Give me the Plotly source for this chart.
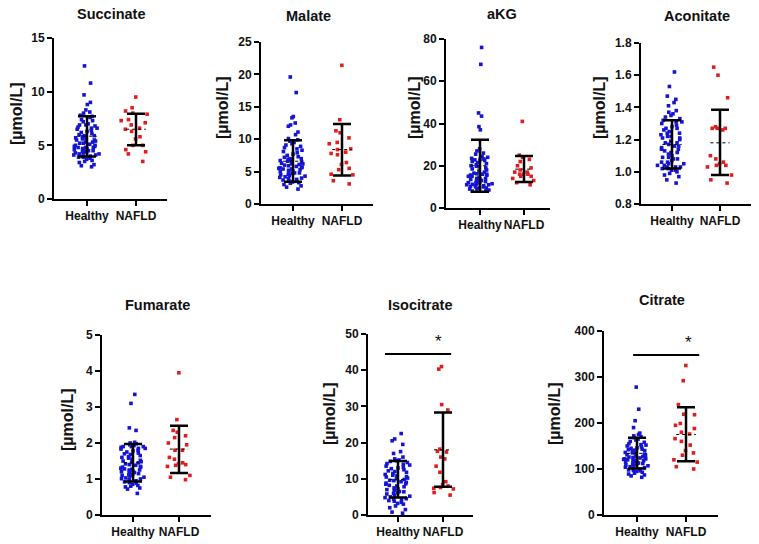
import plotly.graph_objects as go

# the page body adds an 8 px margin, so the figure is drawn 8 px in from the window corner
OFF = 8
W, H = 759 - OFF, 544 - OFF

groups = ["Healthy", "NAFLD"]
titles = ["Succinate", "Malate", "aKG", "Aconitate", "Fumarate", "Isocitrate", "Citrate"]

# ---------------- data (µmol/L) ----------------
succinate_healthy = [12.4, 10.8, 9.7, 9.0, 8.8, 8.3, 8.1, 8.0, 7.8, 7.7, 7.6, 7.4, 7.2, 7.0, 6.9, 6.8, 6.7,
                     6.6, 6.5, 6.4, 6.3, 6.2, 6.1, 6.0, 5.9, 5.8, 5.7, 5.6, 5.6, 5.5, 5.5, 5.4, 5.3, 5.2, 5.2,
                     5.1, 5.0, 5.0, 4.9, 4.9, 4.8, 4.8, 4.7, 4.7, 4.6, 4.6, 4.5, 4.5, 4.4, 4.4, 4.3, 4.3, 4.2,
                     4.2, 4.1, 4.1, 4.0, 4.0, 3.9, 3.9, 3.8, 3.7, 3.6, 3.5, 3.4, 3.2, 3.1, 3.0, 7.3, 6.6, 5.3,
                     4.8, 5.9, 6.9]
succinate_nafld = [9.5, 8.5, 8.2, 8.0, 7.9, 7.4, 7.3, 7.1, 6.9, 6.6, 6.5, 6.3, 5.8, 5.6, 5.0, 5.0, 4.6,
                   4.4, 4.2, 3.5]

malate_healthy = [19.6, 17.2, 13.5, 13.3, 12.5, 12.2, 12.0, 11.1, 10.7, 10.1, 9.9, 9.7, 9.5, 9.3, 9.1,
                  8.9, 8.7, 8.5, 8.3, 8.1, 7.9, 7.7, 7.5, 7.3, 7.2, 7.0, 6.9, 6.7, 6.6, 6.5, 6.3, 6.2, 6.1,
                  6.0, 5.9, 5.8, 5.7, 5.6, 5.5, 5.4, 5.3, 5.2, 5.1, 5.0, 4.9, 4.8, 4.7, 4.6, 4.5, 4.4, 4.3,
                  4.2, 4.1, 4.0, 3.9, 3.8, 3.7, 3.6, 3.5, 3.4, 3.3, 3.2, 3.0, 2.8, 2.6, 2.3, 5.6, 6.2, 7.0,
                  4.8, 5.4, 6.6]
malate_nafld = [21.4, 13.0, 11.3, 11.0, 10.2, 9.5, 9.3, 8.5, 8.4, 8.0, 7.8, 7.6, 6.4, 6.1, 5.5, 5.3,
                4.6, 4.5, 3.6, 3.1]

akg_healthy = [76, 68, 45, 43.5, 38.5, 37, 28, 27, 26, 25.5, 24.5, 24, 23.5, 23, 22.5, 22, 21.5, 21,
               20.5, 20, 19.5, 19, 18.5, 18, 17.5, 17, 16.5, 16, 16, 15.5, 15, 15, 14.5, 14, 14, 13.5, 13,
               13, 12.5, 12, 12, 11.5, 11.5, 11, 11, 10.5, 10.5, 10, 10, 9.5, 9.5, 9, 9, 8.5, 8, 8, 22.8,
               23.2, 16.2, 13.8, 11.2, 10.2, 15.6, 19.8, 12.3]
akg_nafld = [41, 25, 24, 23, 22, 20, 19, 18, 17, 17, 16, 16, 16, 15, 15, 14, 13, 12, 11]

aconitate_healthy = [1.62, 1.53, 1.47, 1.45, 1.43, 1.41, 1.38, 1.37, 1.35, 1.34, 1.33, 1.32, 1.31, 1.31,
                     1.30, 1.29, 1.28, 1.27, 1.26, 1.25, 1.24, 1.23, 1.22, 1.22, 1.21, 1.20, 1.19, 1.18,
                     1.17, 1.16, 1.15, 1.14, 1.14, 1.13, 1.12, 1.11, 1.10, 1.09, 1.08, 1.08, 1.07, 1.06,
                     1.05, 1.05, 1.04, 1.03, 1.03, 1.02, 1.02, 1.01, 1.01, 1.00, 0.99, 0.98, 0.97, 0.95,
                     0.93, 1.06, 1.12, 1.18, 1.24, 1.03, 1.09, 1.27, 1.16, 1.21, 1.36, 1.04]
aconitate_nafld = [1.65, 1.60, 1.46, 1.28, 1.27, 1.27, 1.27, 1.26, 1.10, 1.08, 1.06, 1.05, 1.04, 1.04,
                   1.03, 0.98, 0.95, 0.93]

fumarate_healthy = [3.35, 3.1, 2.42, 2.35, 2.02, 2.0, 1.98, 1.95, 1.93, 1.9, 1.9, 1.88, 1.85, 1.83, 1.8,
                    1.78, 1.75, 1.72, 1.7, 1.68, 1.65, 1.62, 1.6, 1.58, 1.55, 1.52, 1.5, 1.48, 1.45, 1.42,
                    1.4, 1.38, 1.35, 1.33, 1.3, 1.28, 1.25, 1.25, 1.22, 1.2, 1.18, 1.15, 1.12, 1.1, 1.08,
                    1.05, 1.03, 1.0, 0.98, 0.95, 0.92, 0.9, 0.88, 0.85, 0.82, 0.8, 0.78, 0.75, 0.72, 0.6,
                    1.27, 1.33, 1.46, 1.19, 1.85, 1.9, 1.12, 1.01]
fumarate_nafld = [3.95, 2.65, 2.35, 2.3, 2.2, 2.15, 2.0, 1.95, 1.8, 1.8, 1.6, 1.55, 1.45, 1.42, 1.4,
                  1.38, 1.35, 1.1, 1.05, 0.98]

isocitrate_healthy = [22.5, 21, 20.5, 19.5, 17.5, 17, 16, 15.5, 15, 14.8, 14.5, 14.2, 14, 13.5, 13.2, 13,
                      12.5, 12.2, 12, 11.5, 11.2, 11, 10.8, 10.5, 10.2, 10, 9.8, 9.5, 9.2, 9, 8.8, 8.5,
                      8.2, 8, 7.8, 7.5, 7.2, 7, 6.8, 6.5, 6.2, 6, 5.8, 5.5, 5.2, 5, 4.8, 4.5, 4.2, 4, 3.8,
                      3.5, 3.2, 3, 2.5, 2, 1.5, 0.8, 0.5, 13.8, 9.6, 11.8, 6.4, 4.4, 12.8, 8.6, 10.6, 15.2]
isocitrate_nafld = [41, 40.3, 30.5, 29.0, 18.2, 17.6, 17.4, 16.0, 15.5, 13.5, 11.8, 9.2, 8.4, 8.0, 7.6,
                    7.4, 7.2, 6.2, 5.5]

citrate_healthy = [278, 230, 205, 190, 178, 175, 172, 170, 168, 165, 163, 160, 158, 155, 153, 150, 148,
                   146, 145, 143, 141, 140, 138, 136, 135, 133, 132, 130, 128, 127, 125, 124, 123, 122,
                   121, 120, 119, 118, 116, 115, 114, 113, 112, 110, 109, 108, 107, 105, 104, 103, 101,
                   100, 98, 97, 95, 93, 91, 89, 87, 85, 82, 122, 126, 118, 131, 142, 152, 111, 96]
citrate_nafld = [325, 292, 240, 219, 218, 199, 195, 188, 180, 176, 166, 160, 152, 140, 135, 130, 120,
                 115, 105, 100]

# mean and mean ± SD ends (Healthy, NAFLD) as drawn
mean_values = [[5.85, 6.5], [6.6, 8.4], [20.0, 18.4], [1.17, 1.18], [1.45, 1.83], [9.8, 18.0], [134, 175]]
sd_low = [[3.95, 5.0], [3.45, 4.4], [7.7, 12.3], [1.02, 0.98], [0.93, 1.17], [4.8, 7.8], [101, 117]]
sd_high = [[7.7, 7.95], [9.85, 12.35], [32.3, 24.6], [1.32, 1.385], [1.97, 2.48], [14.9, 28.3], [168, 234]]

y_ranges = [[0, 15], [0, 25], [0, 80], [0.8, 1.8], [0, 5], [0, 50], [0, 400]]
y_dticks = [5, 5, 20, 0.2, 1, 10, 100]

# significance brackets (panel index, y, x from, x to, star x, star y)
sig_panel = [5, 6]
sig_y = [44.5, 348]
sig_x0 = [-0.29, -0.08]
sig_x1 = [1.18, 1.27]
star_x = [0.89, 1.06]
star_y = [47.8, 376]

series = [
    (succinate_healthy, succinate_nafld),
    (malate_healthy, malate_nafld),
    (akg_healthy, akg_nafld),
    (aconitate_healthy, aconitate_nafld),
    (fumarate_healthy, fumarate_nafld),
    (isocitrate_healthy, isocitrate_nafld),
    (citrate_healthy, citrate_nafld),
]

# ---------------- layout geometry (window pixels) ----------------
# axis left x, axis right x, axis top y, axis bottom y, Healthy px, NAFLD px
geom = [
    (54, 167, 38, 199, 87, 136),
    (261, 373, 42, 204, 293, 342),
    (446, 550, 39, 208, 480, 524),
    (641, 752, 43, 204, 672, 720),
    (102, 211, 335, 515, 133, 179),
    (368, 473, 334, 515, 398, 443),
    (604, 718, 331, 515, 637, 686),
]
title_pos = [(112, 14), (308, 15.5), (502, 14), (697, 15.5), (157, 305), (420, 305), (662, 300)]
ylab_pos = [(17, 114), (223, 108), (415, 108), (600, 108), (67, 420), (329, 414), (554, 414)]


def px(x):
    return (x - OFF) / W


def py(y):
    return 1 - (y - OFF) / H


FONT = "Liberation Sans, Arial, sans-serif"
BLUE = "#1414d2"
RED = "#e01e1e"
colors = [BLUE, RED]

fig = go.Figure()
annotations = []
shapes = []

for i, (g, (hv, nv)) in enumerate(zip(geom, series)):
    x0, x1, yt, yb, hp, npx = g
    n = "" if i == 0 else str(i + 1)
    xa, ya = "x" + n, "y" + n
    step = npx - hp
    xr = [(x0 - hp) / step, (x1 - hp) / step]

    for k, vals in enumerate([hv, nv]):
        fig.add_trace(go.Box(
            y=vals, x0=k, xaxis=xa, yaxis=ya, name=groups[k],
            boxpoints="all", jitter=1, pointpos=0, width=0.62,
            fillcolor="rgba(0,0,0,0)", line=dict(width=0, color="rgba(0,0,0,0)"),
            marker=dict(color=colors[k], size=3.6, symbol="square"),
            showlegend=False, hoverinfo="y",
        ))
        m = mean_values[i][k]
        fig.add_trace(go.Scatter(
            x=[k], y=[m], xaxis=xa, yaxis=ya, mode="markers",
            marker=dict(size=1, color="rgba(0,0,0,0)"),
            error_y=dict(type="data", symmetric=False,
                         array=[sd_high[i][k] - m], arrayminus=[m - sd_low[i][k]],
                         color="black", thickness=2.5, width=9),
            showlegend=False, hoverinfo="skip",
        ))
        fig.add_trace(go.Scatter(
            x=[k - 0.2, k + 0.2], y=[m, m], xaxis=xa, yaxis=ya, mode="lines",
            line=dict(color="black", width=1, dash="dot"),
            showlegend=False, hoverinfo="skip",
        ))

    axis_common = dict(showline=True, linecolor="black", linewidth=2, ticks="outside",
                       ticklen=5, tickwidth=2, tickcolor="black", showgrid=False, zeroline=False,
                       automargin=False,
                       tickfont=dict(family=FONT, size=12, color="#111", weight="bold"))
    fig.update_layout(**{
        ("xaxis" + n): dict(domain=[px(x0), px(x1)], anchor=ya, range=xr, type="linear",
                            tickvals=[0, 1], ticktext=groups, tickangle=0, **axis_common),
        ("yaxis" + n): dict(domain=[py(yb), py(yt)], anchor=xa, range=y_ranges[i],
                            dtick=y_dticks[i], tick0=0, tickformat=".1f" if i == 3 else "",
                            **axis_common),
    })

    tx, ty = title_pos[i]
    annotations.append(dict(text=titles[i], x=px(tx), y=py(ty), xref="paper", yref="paper",
                            xanchor="center", yanchor="middle", showarrow=False, borderpad=0,
                            font=dict(family=FONT, size=14.5, color="#111", weight="bold")))
    lx, ly = ylab_pos[i]
    annotations.append(dict(text="[µmol/L]", x=px(lx), y=py(ly), xref="paper", yref="paper",
                            xanchor="center", yanchor="middle", showarrow=False, textangle=-90,
                            font=dict(family=FONT, size=16, color="#111", weight="bold")))

for j, p in enumerate(sig_panel):
    n = str(p + 1)
    shapes.append(dict(type="line", xref="x" + n, yref="y" + n, x0=sig_x0[j], x1=sig_x1[j],
                       y0=sig_y[j], y1=sig_y[j], line=dict(color="black", width=2)))
    annotations.append(dict(text="*", x=star_x[j], y=star_y[j], xref="x" + n, yref="y" + n,
                            xanchor="center", yanchor="middle", showarrow=False,
                            font=dict(family=FONT, size=17, color="#111")))

fig.update_layout(width=W, height=H, margin=dict(l=0, r=0, t=0, b=0, pad=0, autoexpand=False),
                  paper_bgcolor="white", plot_bgcolor="white", boxmode="overlay",
                  annotations=annotations, shapes=shapes, showlegend=False)

fig.write_html("out.html")
